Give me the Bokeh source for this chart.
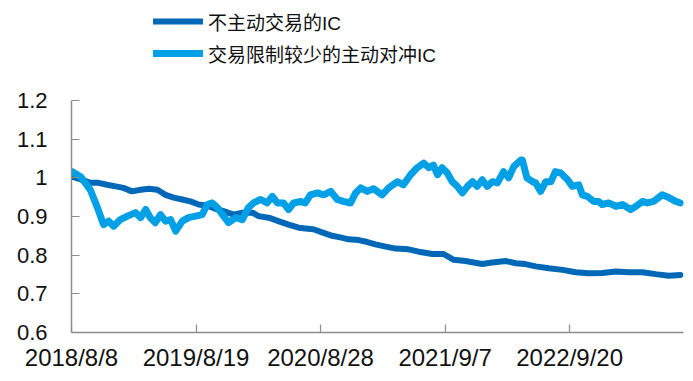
from bokeh.plotting import figure
from bokeh.layouts import column
from bokeh.models import FixedTicker, Range1d, Legend, LegendItem
from bokeh.embed import file_html
from bokeh.resources import INLINE

# trading-day index of each sample and the values
ic_idx = [1, 21, 37, 53, 70, 87, 102, 119, 136, 152, 169, 185, 201, 218, 234, 250, 267, 283, 299,
          319, 336, 356, 368, 388, 407, 427, 447, 460, 476, 493, 510, 529, 545, 565, 582, 598, 618,
          638, 663, 683, 710, 732, 752, 775, 808, 828, 854, 874, 893, 913, 939, 966, 992, 1017, 1044,
          1071, 1096, 1123, 1149, 1175, 1198]
ic_val = [1.003, 0.995, 0.987, 0.987, 0.982, 0.978, 0.974, 0.965, 0.969, 0.972, 0.969, 0.956, 0.949,
          0.944, 0.939, 0.931, 0.928, 0.920, 0.914, 0.905, 0.910, 0.910, 0.901, 0.897, 0.888, 0.879,
          0.871, 0.869, 0.867, 0.859, 0.851, 0.846, 0.841, 0.839, 0.834, 0.828, 0.822, 0.817, 0.815,
          0.809, 0.803, 0.803, 0.788, 0.785, 0.777, 0.781, 0.785, 0.779, 0.777, 0.771, 0.766, 0.762,
          0.756, 0.753, 0.754, 0.758, 0.756, 0.756, 0.751, 0.747, 0.749]

hedge_idx = [1, 18, 37, 51, 63, 73, 83, 96, 110, 126, 136, 146, 155, 165, 175, 185, 195, 205, 218,
             230, 244, 257, 267, 277, 287, 297, 309, 323, 336, 348, 358, 372, 385, 395, 405, 417, 427,
             437, 451, 460, 470, 484, 496, 510, 523, 535, 549, 559, 569, 582, 594, 611, 624, 641, 653,
             667, 680, 693, 703, 712, 720, 729, 739, 749, 759, 769, 779, 789, 798, 808, 818, 828, 838,
             850, 860, 870, 884, 887, 896, 907, 913, 923, 933, 943, 952, 962, 976, 985, 998, 1005,
             1015, 1027, 1037, 1044, 1057, 1071, 1084, 1100, 1110, 1123, 1133, 1145, 1162, 1175,
             1189, 1198]
hedge_val = [1.016, 1.003, 0.969, 0.923, 0.879, 0.888, 0.875, 0.892, 0.901, 0.910, 0.897, 0.918,
             0.897, 0.884, 0.905, 0.888, 0.892, 0.862, 0.888, 0.897, 0.901, 0.905, 0.931, 0.935,
             0.923, 0.905, 0.884, 0.897, 0.892, 0.923, 0.935, 0.944, 0.935, 0.952, 0.935, 0.935,
             0.918, 0.935, 0.939, 0.935, 0.956, 0.961, 0.956, 0.965, 0.944, 0.939, 0.935, 0.961,
             0.974, 0.965, 0.972, 0.956, 0.974, 0.990, 0.982, 1.008, 1.026, 1.038, 1.026, 1.033,
             1.008, 1.026, 1.013, 0.990, 0.978, 0.961, 0.978, 0.990, 0.978, 0.995, 0.978, 0.990,
             0.987, 1.016, 1.000, 1.029, 1.046, 1.046, 1.000, 0.990, 0.987, 0.965, 0.990, 0.990,
             1.016, 1.013, 0.995, 0.978, 0.982, 0.956, 0.952, 0.939, 0.939, 0.931, 0.935, 0.926,
             0.931, 0.918, 0.926, 0.939, 0.935, 0.939, 0.956, 0.949, 0.939, 0.935]

tick_idx = [0, 245, 490, 735, 980]
tick_labels = ["2018/8/8", "2019/8/19", "2020/8/28", "2021/9/7", "2022/9/20"]
y_ticks = [0.6, 0.7, 0.8, 0.9, 1.0, 1.1, 1.2]
y_labels = ["0.6", "0.7", "0.8", "0.9", "1", "1.1", "1.2"]
names = ["不主动交易的IC", "交易限制较少的主动对冲IC"]

DARK = "#0068B7"
LIGHT = "#00A0E6"
FONT = "Liberation Sans, Noto Sans CJK SC"
W = 685

# ---- legend strip on top (its ranges keep the series out of view; only the key shows) ----
lg = figure(width=W, height=88, output_backend="svg", toolbar_location=None,
            x_axis_type=None, y_axis_type=None, x_range=Range1d(-3, -2), y_range=Range1d(-3, -2),
            min_border_left=0, min_border_right=0, min_border_top=0, min_border_bottom=0)
lg.outline_line_color = None
lg.grid.visible = False
k1 = lg.line(ic_idx, ic_val, line_color=DARK, line_width=6, line_cap="round")
k2 = lg.line(hedge_idx, hedge_val, line_color=LIGHT, line_width=7, line_cap="round")
legend = Legend(items=[LegendItem(label=names[0], renderers=[k1]),
                       LegendItem(label=names[1], renderers=[k2])],
                location=(82, 20), orientation="vertical")
legend.padding = 0
legend.margin = 0
legend.spacing = 2
legend.glyph_width = 50
legend.glyph_height = 30
legend.label_height = 30
legend.label_standoff = 5
legend.label_text_font = FONT
legend.label_text_font_size = "19px"
legend.label_text_color = "#111111"
legend.background_fill_alpha = 0
legend.border_line_color = None
lg.add_layout(legend, "center")

# ---- main chart ----
p = figure(width=W, height=285, output_backend="svg", toolbar_location=None,
           x_range=Range1d(0, 1204), y_range=Range1d(0.6, 1.2),
           min_border_left=71, min_border_right=2, min_border_top=12, min_border_bottom=39)
p.outline_line_color = None
p.grid.visible = False

r1 = p.line(ic_idx, ic_val, line_color=DARK, line_width=6, line_join="round", line_cap="round")
r2 = p.line(hedge_idx, hedge_val, line_color=LIGHT, line_width=7, line_join="round", line_cap="round")

for ax in (p.xaxis[0], p.yaxis[0]):
    ax.axis_line_color = "#8C8C8C"
    ax.axis_line_width = 1.5
    ax.major_tick_line_color = "#8C8C8C"
    ax.major_tick_line_width = 1.2
    ax.major_tick_in = 8
    ax.major_tick_out = 0
    ax.minor_tick_line_color = None
    ax.major_label_text_font = FONT
    ax.major_label_text_color = "#111111"

p.xaxis.ticker = FixedTicker(ticks=tick_idx)
p.xaxis.major_label_overrides = {t: l for t, l in zip(tick_idx, tick_labels)}
p.xaxis.major_label_text_font_size = "24px"
p.xaxis.major_label_standoff = 11

p.yaxis.ticker = FixedTicker(ticks=y_ticks)
p.yaxis.major_label_overrides = {t: l for t, l in zip(y_ticks, y_labels)}
p.yaxis.major_label_text_font_size = "22px"
p.yaxis.major_label_standoff = 24

layout = column(lg, p, spacing=0)
open("out.html", "w").write(file_html(layout, INLINE))
